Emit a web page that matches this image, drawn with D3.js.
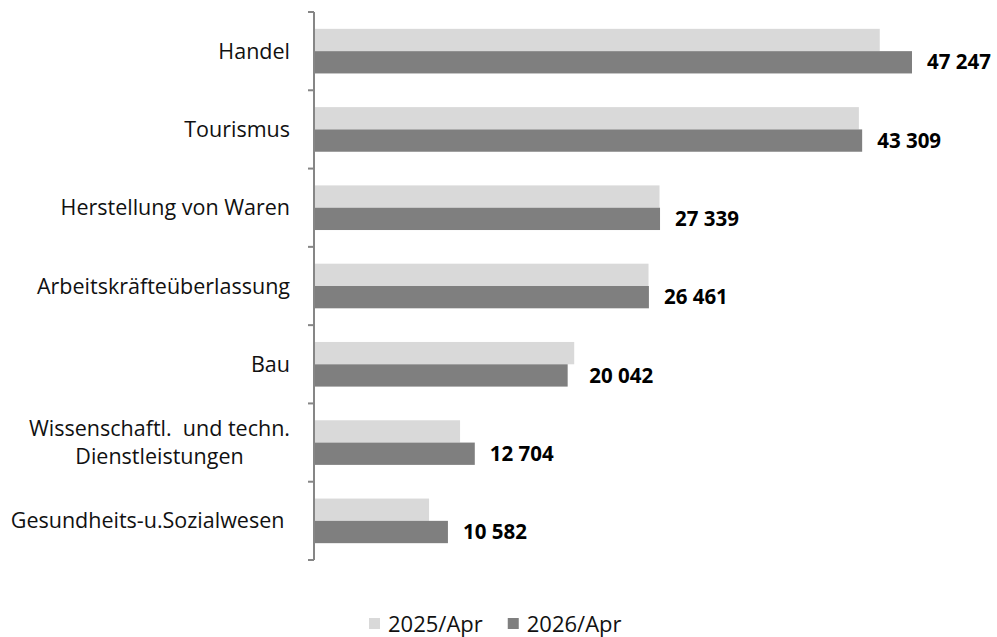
<!DOCTYPE html>
<html>
<head>
<meta charset="utf-8">
<script src="https://cdn.jsdelivr.net/npm/d3@7"></script>
<style>
  body { margin: 0; background: #fff; }
  svg { display: block; font-family: "Open Sans", sans-serif; }
</style>
</head>
<body>
<div id="chart"></div>
<script>
const width = 997;
const height = 637;

// categories (top to bottom)
const categories = [
  "Handel",
  "Tourismus",
  "Herstellung von Waren",
  "Arbeitskräfteüberlassung",
  "Bau",
  "Wissenschaftl.  und techn.|Dienstleistungen",
  "Gesundheits-u.Sozialwesen "
];
const series = ["2025/Apr", "2026/Apr"];
const values2025 = [44700, 43050, 27300, 26430, 20560, 11540, 9090];
const values2026 = [47247, 43309, 27339, 26461, 20042, 12704, 10582];
const colors = ["#d9d9d9", "#7f7f7f"];

const rows = categories.map((c, i) => ({ cat: c, vals: [values2025[i], values2026[i]] }));

const margin = { top: 12, left: 314, bottom: 77 };

const svg = d3.select("#chart")
  .append("svg")
  .attr("width", width)
  .attr("height", height);

const y = d3.scaleBand()
  .domain(categories)
  .range([margin.top, height - margin.bottom])
  .paddingInner(0.43)
  .paddingOuter(0.215);

const ySub = d3.scaleBand()
  .domain(series)
  .range([0, y.bandwidth()]);

const x = d3.scaleLinear()
  .domain([0, 47247])
  .range([margin.left, 912]);

// bars
const groups = svg.selectAll("g.cat")
  .data(rows)
  .join("g")
  .attr("class", "cat")
  .attr("transform", d => `translate(0,${y(d.cat)})`);

groups.selectAll("rect")
  .data(d => d.vals.map((v, i) => ({ s: series[i], v, i })))
  .join("rect")
  .attr("x", x(0))
  .attr("y", d => ySub(d.s))
  .attr("width", d => x(d.v) - x(0))
  .attr("height", ySub.bandwidth())
  .attr("fill", d => colors[d.i]);

// value labels (2026)
groups.append("text")
  .attr("x", d => x(Math.max(d.vals[0], d.vals[1])) + 15)
  .attr("y", ySub("2026/Apr") + ySub.bandwidth() / 2)
  .attr("dy", "0.35em")
  .attr("font-weight", "bold")
  .attr("font-size", 20.5)
  .attr("fill", "#000")
  .text(d => d3.format(",")(d.vals[1]).replace(/,/g, " "));

// axis line + ticks at band boundaries
const axisColor = "#868686";
const [r0, r1] = y.range();
svg.append("line")
  .attr("x1", margin.left).attr("x2", margin.left)
  .attr("y1", r0).attr("y2", r1)
  .attr("stroke", axisColor).attr("stroke-width", 2);

svg.selectAll("line.tick")
  .data(d3.range(categories.length + 1))
  .join("line")
  .attr("class", "tick")
  .attr("x1", margin.left - 6).attr("x2", margin.left)
  .attr("y1", i => r0 + i * y.step())
  .attr("y2", i => r0 + i * y.step())
  .attr("stroke", axisColor).attr("stroke-width", 2);

// category labels
const labelX = 290;
svg.selectAll("text.cat")
  .data(categories)
  .join("text")
  .attr("class", "cat")
  .attr("font-size", 21.5)
  .attr("fill", "#111")
  .style("white-space", "pre")
  .each(function (c) {
    const lines = c.split("|");
    const t = d3.select(this);
    const cy = y(c) + y.bandwidth() / 2;
    const lh = 28;
    lines.forEach((ln, k) => {
      t.append("tspan")
        .attr("y", cy + (k - (lines.length - 1) / 2) * lh)
        .attr("dy", "0.35em")
        .text(ln);
    });
    if (lines.length === 1) {
      t.attr("text-anchor", "end").selectAll("tspan").attr("x", labelX);
    } else {
      const w = d3.max(t.selectAll("tspan").nodes(), n => n.getComputedTextLength());
      t.attr("text-anchor", "middle").selectAll("tspan").attr("x", labelX - w / 2);
    }
  });

// legend
const legend = svg.append("g").attr("font-size", 22).attr("fill", "#111");
let lx = 369;
series.forEach((s, i) => {
  legend.append("rect")
    .attr("x", lx).attr("y", 618)
    .attr("width", 11).attr("height", 11)
    .attr("fill", colors[i]);
  const t = legend.append("text")
    .attr("x", lx + 19).attr("y", 624)
    .attr("dy", "0.35em")
    .text(s);
  lx += 19 + t.node().getComputedTextLength() + 25;
});
</script>
</body>
</html>
